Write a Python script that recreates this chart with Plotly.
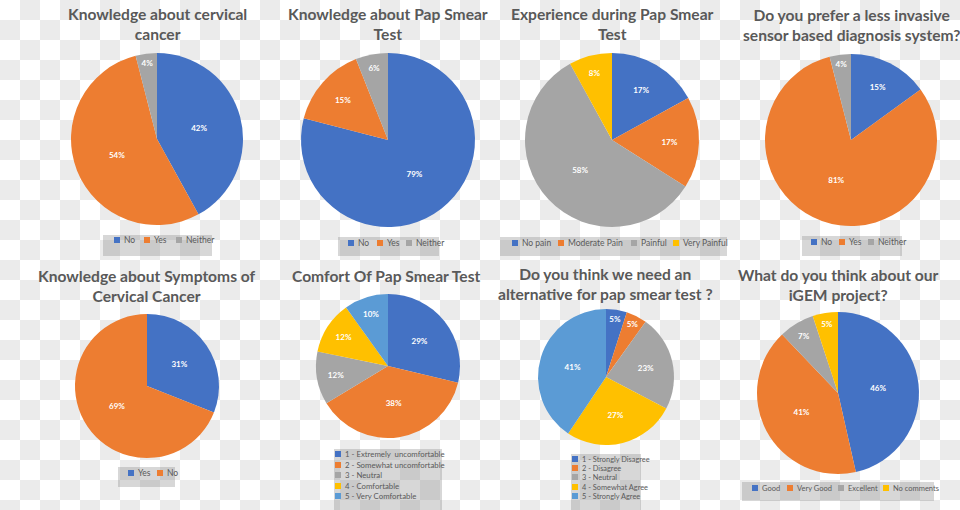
import plotly.graph_objects as go

# ---------------- data ----------------
title_1 = "Knowledge about cervical<br>cancer"
labels_1 = ["No", "Yes", "Neither"]
values_1 = [42, 54, 4]

title_2 = "Knowledge about Pap Smear<br>Test"
labels_2 = ["No", "Yes", "Neither"]
values_2 = [79, 15, 6]

title_3 = "Experience during Pap Smear<br>Test"
labels_3 = ["No pain", "Moderate Pain", "Painful", "Very Painful"]
values_3 = [17, 17, 58, 8]

title_4 = "Do you prefer a less invasive<br>sensor based diagnosis system?"
labels_4 = ["No", "Yes", "Neither"]
values_4 = [15, 81, 4]

title_5 = "Knowledge about Symptoms of<br>Cervical Cancer"
labels_5 = ["Yes", "No"]
values_5 = [31, 69]

title_6 = "Comfort Of Pap Smear Test"
labels_6 = ["1 - Extremely  uncomfortable", "2 - Somewhat uncomfortable",
            "3 - Neutral", "4 - Comfortable", "5 - Very Comfortable"]
values_6 = [29, 38, 12, 12, 10]

title_7 = "Do you think we need an<br>alternative for pap smear test ?"
labels_7 = ["1 - Strongly Disagree", "2 - Disagree", "3 - Neutral",
            "4 - Somewhat Agree", "5 - Strongly Agree"]
values_7 = [5, 5, 23, 27, 41]

title_8 = "What do you think about our<br>iGEM project?"
labels_8 = ["Good", "Very Good", "Excellent", "No comments"]
values_8 = [46, 41, 7, 5]

# ---------------- styles ----------------
BLUE, ORANGE, GREY, YELLOW, LBLUE = "#4472C4", "#ED7D31", "#A5A5A5", "#FFC000", "#5B9BD5"
TITLE_COLOR = "#595959"
W, H = 960, 510

panels = [
    dict(title=title_1, labels=labels_1, values=values_1, colors=[BLUE, ORANGE, GREY],
         center=(157, 139), r=86, title_xy=(157, 24),
         box=(103, 235, 212, 256), leg_x=[114, 144, 176], leg_y=[240], leg_fs=8.5),
    dict(title=title_2, labels=labels_2, values=values_2, colors=[BLUE, ORANGE, GREY],
         center=(388, 140), r=87, title_xy=(388, 24),
         box=(338, 237, 439, 256), leg_x=[348, 377, 406], leg_y=[243], leg_fs=8.5),
    dict(title=title_3, labels=labels_3, values=values_3, colors=[BLUE, ORANGE, GREY, YELLOW],
         center=(612, 140), r=87, title_xy=(612, 24),
         box=(500, 237, 727, 256), leg_x=[512, 558, 631, 673], leg_y=[243], leg_fs=8.5),
    dict(title=title_4, labels=labels_4, values=values_4, colors=[BLUE, ORANGE, GREY],
         center=(851, 140), r=86, title_xy=(851, 25),
         box=(802, 236, 902, 256), leg_x=[811, 839, 868], leg_y=[242], leg_fs=8.5),
    dict(title=title_5, labels=labels_5, values=values_5, colors=[BLUE, ORANGE],
         center=(147, 386), r=72, title_xy=(147, 286),
         box=(118, 467, 175, 487), leg_x=[128, 157], leg_y=[473], leg_fs=8.5),
    dict(title=title_6, labels=labels_6, values=values_6, colors=[BLUE, ORANGE, GREY, YELLOW, LBLUE],
         center=(388, 366), r=72, title_xy=(386, 276),
         box=(334, 449, 442, 510), leg_x=[335], leg_y=[454, 465, 475, 486, 496], leg_fs=7.8),
    dict(title=title_7, labels=labels_7, values=values_7, colors=[BLUE, ORANGE, GREY, YELLOW, LBLUE],
         center=(606, 377), r=68, title_xy=(605, 284),
         box=(571, 454, 641, 510), leg_x=[572], leg_y=[459, 468, 477, 487, 496], leg_fs=7.4),
    dict(title=title_8, labels=labels_8, values=values_8, colors=[BLUE, ORANGE, GREY, YELLOW],
         center=(838, 393), r=81, title_xy=(838, 285),
         box=(742, 482, 934, 501), leg_x=[752, 787, 838, 883], leg_y=[488], leg_fs=7.5),
]

fig = go.Figure()

# checkerboard (transparency) background
z = [[(i + j) % 2 for j in range(W // 20)] for i in range(H // 20 + 1)]
fig.add_trace(go.Heatmap(z=z, x0=10, dx=20, y0=10, dy=20,
                         colorscale=[[0, "#ffffff"], [1, "#ebebeb"]],
                         showscale=False, hoverinfo="skip", zmin=0, zmax=1))

shapes = []
annotations = []
for p in panels:
    cx, cy = p["center"]
    r = p["r"]
    fig.add_trace(go.Pie(
        labels=p["labels"], values=p["values"], sort=False, direction="clockwise",
        rotation=0, marker=dict(colors=p["colors"], line=dict(width=0)),
        texttemplate="<b>%{value}%</b>", textposition="inside",
        insidetextorientation="horizontal",
        textfont=dict(family="Lato", size=8, color="white"),
        domain=dict(x=[(cx - r) / W, (cx + r) / W], y=[1 - (cy + r) / H, 1 - (cy - r) / H]),
        showlegend=False, hoverinfo="label+percent",
    ))
    tx, ty = p["title_xy"]
    annotations.append(dict(x=tx, y=ty, xref="x", yref="y", text="<b>" + p["title"] + "</b>",
                            showarrow=False, xanchor="center", yanchor="middle", align="center",
                            font=dict(family="Lato", size=15.6, color=TITLE_COLOR)))
    x0, y0, x1, y1 = p["box"]
    shapes.append(dict(type="rect", xref="x", yref="y", x0=x0, y0=y0, x1=x1, y1=y1,
                       fillcolor="rgba(150,150,150,0.38)", line=dict(width=0), layer="above"))
    n = len(p["labels"])
    for k in range(n):
        lx = p["leg_x"][k] if len(p["leg_x"]) > 1 else p["leg_x"][0]
        ly = p["leg_y"][k] if len(p["leg_y"]) > 1 else p["leg_y"][0]
        shapes.append(dict(type="rect", xref="x", yref="y", x0=lx, x1=lx + 6, y0=ly - 3, y1=ly + 3,
                           fillcolor=p["colors"][k], line=dict(width=0), layer="above"))
        annotations.append(dict(x=lx + 7.5, y=ly, xref="x", yref="y", text=p["labels"][k],
                                showarrow=False, xanchor="left", yanchor="middle",
                                font=dict(family="Lato", size=p["leg_fs"], color=TITLE_COLOR)))

fig.update_layout(
    width=W, height=H, margin=dict(l=0, r=0, t=0, b=0),
    paper_bgcolor="white", plot_bgcolor="white",
    xaxis=dict(range=[0, W], visible=False, domain=[0, 1], fixedrange=True),
    yaxis=dict(range=[H, 0], visible=False, domain=[0, 1], fixedrange=True),
    shapes=shapes, annotations=annotations, showlegend=False,
)

fig.write_html("out.html", config={"displayModeBar": False},
               post_script="document.body.style.margin='0px';document.body.style.overflow='hidden';")
